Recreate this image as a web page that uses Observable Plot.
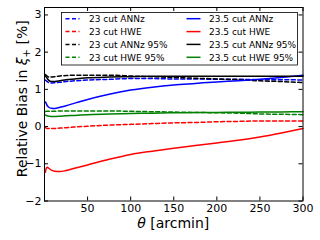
<!DOCTYPE html>
<html><head><meta charset="utf-8">
<script src="https://cdn.jsdelivr.net/npm/d3@7"></script>
<script src="https://cdn.jsdelivr.net/npm/@observablehq/plot@0.6"></script>
<style>html,body{margin:0;padding:0;background:#fff;}</style>
</head><body><div id="chart"></div>
<script>
// θ grid (arcmin)
const theta = [1, 2, 3, 5, 8, 12, 18, 25, 35, 50, 75, 100, 125, 150, 175, 200, 225, 250, 275, 300];
// relative bias [%]
const annz23    = [1.25, 1.23, 1.21, 1.18, 1.17, 1.18, 1.19, 1.21, 1.23, 1.25, 1.27, 1.29, 1.29, 1.28, 1.28, 1.27, 1.27, 1.26, 1.26, 1.25];
const hwe23     = [-0.03, -0.04, -0.05, -0.05, -0.05, -0.05, -0.04, -0.03, -0.01, 0.01, 0.04, 0.06, 0.08, 0.10, 0.11, 0.13, 0.14, 0.15, 0.15, 0.15];
const annz23p95 = [1.40, 1.38, 1.36, 1.33, 1.33, 1.34, 1.36, 1.37, 1.38, 1.38, 1.38, 1.36, 1.34, 1.32, 1.30, 1.28, 1.26, 1.23, 1.21, 1.18];
const hwe23p95  = [0.40, 0.41, 0.41, 0.41, 0.41, 0.41, 0.42, 0.42, 0.42, 0.42, 0.42, 0.41, 0.40, 0.39, 0.38, 0.37, 0.36, 0.34, 0.33, 0.32];
const annz235   = [0.66, 0.62, 0.57, 0.52, 0.49, 0.485, 0.52, 0.56, 0.63, 0.73, 0.87, 0.98, 1.06, 1.12, 1.16, 1.20, 1.23, 1.27, 1.32, 1.38];
const hwe235    = [-1.23, -1.12, -1.09, -1.12, -1.17, -1.20, -1.21, -1.18, -1.12, -1.03, -0.88, -0.75, -0.66, -0.58, -0.51, -0.44, -0.37, -0.28, -0.17, -0.05];
const annz235p95= [1.37, 1.33, 1.30, 1.24, 1.21, 1.21, 1.23, 1.26, 1.28, 1.31, 1.33, 1.34, 1.35, 1.35, 1.35, 1.35, 1.35, 1.35, 1.35, 1.35];
const hwe235p95 = [0.31, 0.30, 0.29, 0.28, 0.27, 0.27, 0.28, 0.29, 0.30, 0.32, 0.34, 0.35, 0.36, 0.37, 0.375, 0.38, 0.385, 0.39, 0.395, 0.40];

const seriesNames = ["23 cut ANNz", "23 cut HWE", "23 cut ANNz 95%", "23 cut HWE 95%",
                     "23.5 cut ANNz", "23.5 cut HWE", "23.5 cut ANNz 95%", "23.5 cut HWE 95%"];
const seriesValues = [annz23, hwe23, annz23p95, hwe23p95, annz235, hwe235, annz235p95, hwe235p95];
const seriesColors = ["#0000ff", "#ff0000", "#000000", "#008000", "#0000ff", "#ff0000", "#000000", "#008000"];
const seriesDashed = [true, true, true, true, false, false, false, false];

const xTicks = [50, 100, 150, 200, 250, 300];
const yTicks = [-2, -1, 0, 1, 2, 3];

const W = 320, H = 240;
const mL = 44, mR = 17.5, mT = 7, mB = 39.5;
const plotW = W - mL - mR, plotH = H - mT - mB;
const DASH = "4,2.5";
const FONT = "DejaVu Sans, sans-serif";

const lineMarks = seriesNames.map((name, k) => {
  const data = theta.map((t, i) => ({theta: t, value: seriesValues[k][i]}));
  return Plot.line(data, {x: "theta", y: "value", stroke: seriesColors[k], strokeWidth: 1.5,
    strokeDasharray: seriesDashed[k] ? DASH : null, curve: "monotone-x"});
});

const fmt = d3.format("d");
const svg = Plot.plot({
  width: W, height: H,
  marginLeft: mL, marginRight: mR, marginTop: mT, marginBottom: mB,
  style: {fontFamily: FONT, background: "#fff"},
  x: {domain: [0, 300]},
  y: {domain: [-2, 3.2]},
  marks: [
    ...lineMarks,
    Plot.axisX({ticks: xTicks, tickSize: 0, tickPadding: 3, fontSize: 11, tickFormat: fmt, label: null, color: "#000"}),
    Plot.axisY({ticks: yTicks, tickSize: 0, tickPadding: 3, fontSize: 11, tickFormat: fmt, label: null, color: "#000"}),
    Plot.tickX(xTicks, {x: d => d, insetTop: plotH - 4, stroke: "#000", strokeWidth: 1}),
    Plot.tickX(xTicks, {x: d => d, insetBottom: plotH - 4, stroke: "#000", strokeWidth: 1}),
    Plot.tickY(yTicks, {y: d => d, insetRight: plotW - 4, stroke: "#000", strokeWidth: 1}),
    Plot.tickY(yTicks, {y: d => d, insetLeft: plotW - 4, stroke: "#000", strokeWidth: 1}),
    Plot.frame({stroke: "#000", strokeWidth: 1})
  ]
});

const s = d3.select(svg);
// y label
const yl = s.append("text").attr("transform", `translate(27,${mT + plotH / 2 - 5}) rotate(-90)`)
  .attr("text-anchor", "middle").attr("font-size", 14).attr("fill", "#000").attr("font-family", FONT);
yl.append("tspan").text("Relative Bias in ");
yl.append("tspan").attr("font-style", "italic").text("ξ");
yl.append("tspan").attr("font-size", 10).attr("dy", 3).text("+");
yl.append("tspan").attr("dy", -3).text(" [%]");
// x label
const xl = s.append("text").attr("x", mL + plotW / 2).attr("y", 228)
  .attr("text-anchor", "middle").attr("font-size", 14).attr("fill", "#000").attr("font-family", FONT);
xl.append("tspan").attr("font-style", "italic").text("θ");
xl.append("tspan").text(" [arcmin]");

// legend
const lg = s.append("g").attr("font-family", FONT).attr("font-size", 9).attr("text-anchor", "start");
lg.append("rect").attr("x", 61.5).attr("y", 12.5).attr("width", 236).attr("height", 52.5)
  .attr("fill", "#fff").attr("stroke", "#000").attr("stroke-width", 0.8);
const rowY = [18.7, 31.6, 44.4, 57.3];
seriesNames.forEach((name, k) => {
  const col = k < 4 ? 0 : 1, row = k % 4;
  const x0 = col === 0 ? 65.5 : 186.5;
  const tx = col === 0 ? 89 : 209;
  lg.append("line").attr("x1", x0).attr("x2", x0 + 14).attr("y1", rowY[row]).attr("y2", rowY[row])
    .attr("stroke", seriesColors[k]).attr("stroke-width", 1.5)
    .attr("stroke-dasharray", seriesDashed[k] ? DASH : null);
  lg.append("text").attr("x", tx).attr("y", rowY[row] + 3.3).attr("fill", "#000")
    .attr("text-anchor", "start").text(name);
});

document.getElementById("chart").appendChild(svg);
</script>
</body></html>
